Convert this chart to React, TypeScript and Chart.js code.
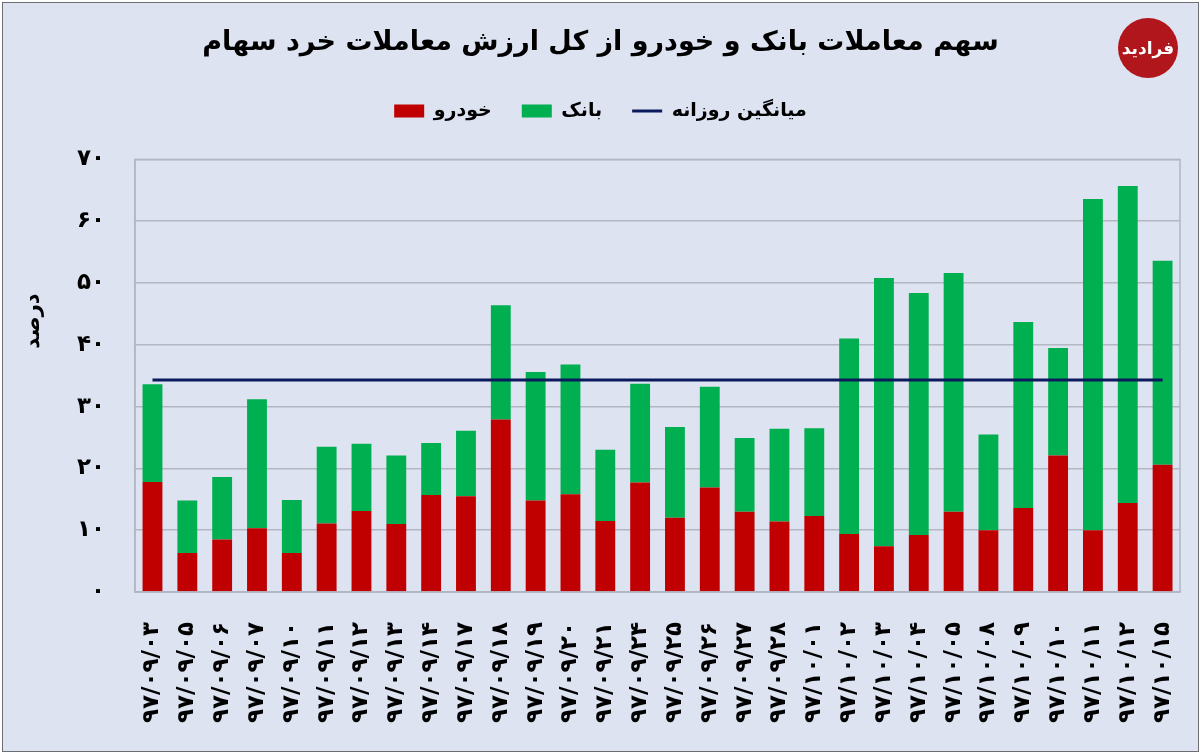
import React, { useEffect, useRef } from 'react';
import { Chart, registerables } from 'chart.js';

Chart.register(...registerables);

// تاریخ معاملات
const dates = [
  '۹۷/۰۹/۰۳', '۹۷/۰۹/۰۵', '۹۷/۰۹/۰۶', '۹۷/۰۹/۰۷', '۹۷/۰۹/۱۰', '۹۷/۰۹/۱۱',
  '۹۷/۰۹/۱۲', '۹۷/۰۹/۱۳', '۹۷/۰۹/۱۴', '۹۷/۰۹/۱۷', '۹۷/۰۹/۱۸', '۹۷/۰۹/۱۹',
  '۹۷/۰۹/۲۰', '۹۷/۰۹/۲۱', '۹۷/۰۹/۲۴', '۹۷/۰۹/۲۵', '۹۷/۰۹/۲۶', '۹۷/۰۹/۲۷',
  '۹۷/۰۹/۲۸', '۹۷/۱۰/۰۱', '۹۷/۱۰/۰۲', '۹۷/۱۰/۰۳', '۹۷/۱۰/۰۴', '۹۷/۱۰/۰۵',
  '۹۷/۱۰/۰۸', '۹۷/۱۰/۰۹', '۹۷/۱۰/۱۰', '۹۷/۱۰/۱۱', '۹۷/۱۰/۱۲', '۹۷/۱۰/۱۵',
];

// سهم خودرو (درصد)
const carShare = [
  17.8, 6.3, 8.5, 10.3, 6.3, 11.1, 13.1, 11.0, 15.7, 15.5,
  27.9, 14.8, 15.8, 11.5, 17.7, 12.0, 16.9, 13.0, 11.4, 12.3,
  9.4, 7.4, 9.2, 13.0, 10.0, 13.6, 22.1, 10.0, 14.4, 20.6,
];

// سهم بانک (درصد)
const bankShare = [
  15.8, 8.5, 10.1, 20.9, 8.6, 12.4, 10.9, 11.1, 8.4, 10.6,
  18.5, 20.8, 21.0, 11.5, 16.0, 14.7, 16.3, 11.9, 15.0, 14.2,
  31.6, 43.4, 39.2, 38.6, 15.5, 30.1, 17.4, 53.6, 51.3, 33.0,
];

// میانگین روزانه
const dailyAverage = [
  34.3, 34.3, 34.3, 34.3, 34.3, 34.3, 34.3, 34.3, 34.3, 34.3,
  34.3, 34.3, 34.3, 34.3, 34.3, 34.3, 34.3, 34.3, 34.3, 34.3,
  34.3, 34.3, 34.3, 34.3, 34.3, 34.3, 34.3, 34.3, 34.3, 34.3,
];

const yTicks = ['۰', '۱۰', '۲۰', '۳۰', '۴۰', '۵۰', '۶۰', '۷۰'];

const FONT = '"DejaVu Sans", sans-serif';

// plot frame and the rotated axis title
const frame = {
  id: 'frame',
  afterDraw(chart: any) {
    const { ctx, chartArea } = chart;
    ctx.save();
    ctx.strokeStyle = '#b3b7c2';
    ctx.lineWidth = 1.5;
    ctx.strokeRect(chartArea.left, chartArea.top, chartArea.right - chartArea.left, chartArea.bottom - chartArea.top);
    ctx.translate(31, 318);
    ctx.rotate(-Math.PI / 2);
    ctx.fillStyle = '#000';
    ctx.font = `bold 21px ${FONT}`;
    ctx.textAlign = 'center';
    ctx.textBaseline = 'middle';
    ctx.fillText('درصد', 0, 0);
    ctx.restore();
  },
};

const App: React.FC = () => {
  const chartRef = useRef<HTMLCanvasElement>(null);
  const chartInstance = useRef<Chart>();

  useEffect(() => {
    if (chartRef.current) {
      chartInstance.current = new Chart(chartRef.current, {
        type: 'bar',
        data: {
          labels: dates,
          datasets: [
            {
              label: 'خودرو',
              data: carShare,
              backgroundColor: '#c00000',
              pointStyle: 'rect',
              barPercentage: 0.57,
              categoryPercentage: 1,
              stack: 's',
              order: 2,
            },
            {
              label: 'بانک',
              data: bankShare,
              backgroundColor: '#00b050',
              pointStyle: 'rect',
              barPercentage: 0.57,
              categoryPercentage: 1,
              stack: 's',
              order: 2,
            },
            {
              type: 'line',
              label: 'میانگین روزانه',
              data: dailyAverage,
              borderColor: '#0a1a5c',
              backgroundColor: '#0a1a5c',
              borderWidth: 3,
              pointRadius: 0,
              pointStyle: 'line',
              order: 1,
            } as any,
          ],
        },
        options: {
          responsive: true,
          maintainAspectRatio: false,
          animation: false,
          layout: { padding: { left: 18, right: 18, top: 0, bottom: 6 } },
          plugins: {
            title: {
              display: true,
              text: 'سهم معاملات بانک و خودرو از کل ارزش معاملات خرد سهام',
              color: '#000',
              font: { family: FONT, size: 27, weight: 'bold' },
              padding: { top: 24, bottom: 12 },
            },
            legend: {
              display: true,
              labels: {
                usePointStyle: true,
                boxWidth: 30,
                boxHeight: 13,
                pointStyleWidth: 30,
                padding: 30,
                color: '#000',
                font: { family: FONT, size: 19, weight: 'bold' },
                sort: (a: any, b: any) => a.datasetIndex - b.datasetIndex,
              },
            },
            tooltip: { enabled: false },
          },
          scales: {
            x: {
              stacked: true,
              afterFit: (scale: any) => {
                scale.paddingLeft = 0;
                scale.paddingRight = 0;
              },
              grid: { display: false },
              border: { display: true, color: '#b3b7c2', width: 1.5 },
              ticks: {
                autoSkip: false,
                minRotation: 90,
                maxRotation: 90,
                padding: 22,
                color: '#000',
                font: { family: FONT, size: 23, weight: 'bold' },
              },
            },
            y: {
              stacked: true,
              min: 0,
              max: 70,
              afterFit: (scale: any) => {
                scale.width += 26;
              },
              grid: { color: '#b3b7c2', lineWidth: 1.5, drawTicks: false },
              border: { display: true, color: '#b3b7c2', width: 1.5 },
              ticks: {
                stepSize: 10,
                padding: 30,
                color: '#000',
                font: { family: FONT, size: 23, weight: 'bold' },
                callback: (_v: any, i: number) => yTicks[i],
              },
            },
          },
        },
        plugins: [
          frame,
          {
            id: 'legendGap',
            beforeInit(chart: any) {
              const fit = chart.legend.fit;
              chart.legend.fit = function () {
                fit.call(this);
                this.height += 29;
              };
            },
          },
        ],
      });
    }

    return () => {
      if (chartInstance.current) {
        chartInstance.current.destroy();
      }
    };
  }, []);

  return (
    <div style={{ position: 'absolute', left: 0, top: 0, width: 1200, height: 753, background: '#fff' }}>
      <div
        style={{
          position: 'absolute',
          left: 2,
          top: 2,
          width: 1195,
          height: 748,
          border: '1px solid #6d6d72',
          background: '#dde3f1',
        }}
      >
        <canvas ref={chartRef} />
      </div>
      <div
        style={{
          position: 'absolute',
          left: 1118,
          top: 18,
          width: 60,
          height: 60,
          borderRadius: '50%',
          background: '#b0161c',
          color: '#fff',
          fontFamily: FONT,
          fontWeight: 'bold',
          fontSize: 17,
          lineHeight: '60px',
          textAlign: 'center',
          direction: 'rtl',
        }}
      >
        فرادید
      </div>
    </div>
  );
};

export default App;
